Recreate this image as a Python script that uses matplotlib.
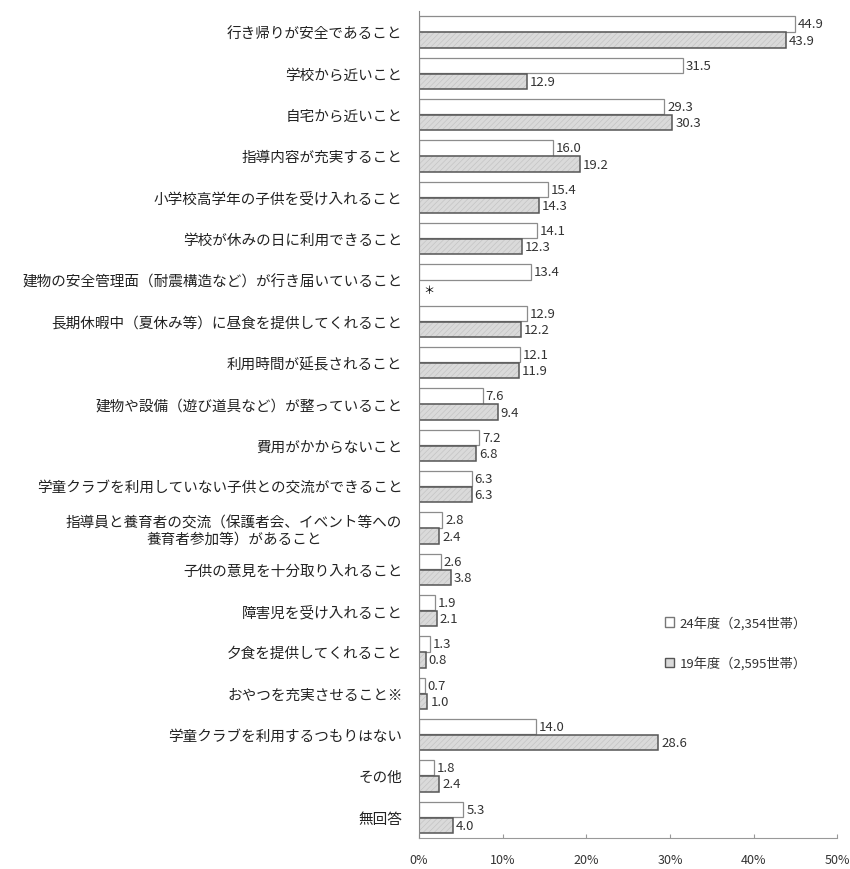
import matplotlib
matplotlib.use("Agg")
import matplotlib.pyplot as plt
from matplotlib.patches import Patch
import numpy as np

plt.rcParams['font.family'] = ['Noto Sans CJK JP', 'DejaVu Sans']
plt.rcParams['hatch.linewidth'] = 0.5

# Données
categories = [
    "行き帰りが安全であること",
    "学校から近いこと",
    "自宅から近いこと",
    "指導内容が充実すること",
    "小学校高学年の子供を受け入れること",
    "学校が休みの日に利用できること",
    "建物の安全管理面（耐震構造など）が行き届いていること",
    "長期休暇中（夏休み等）に昼食を提供してくれること",
    "利用時間が延長されること",
    "建物や設備（遊び道具など）が整っていること",
    "費用がかからないこと",
    "学童クラブを利用していない子供との交流ができること",
    "指導員と養育者の交流（保護者会、イベント等への\n養育者参加等）があること",
    "子供の意見を十分取り入れること",
    "障害児を受け入れること",
    "夕食を提供してくれること",
    "おやつを充実させること※",
    "学童クラブを利用するつもりはない",
    "その他",
    "無回答",
]
valeurs_24 = [44.9, 31.5, 29.3, 16.0, 15.4, 14.1, 13.4, 12.9, 12.1, 7.6,
              7.2, 6.3, 2.8, 2.6, 1.9, 1.3, 0.7, 14.0, 1.8, 5.3]
valeurs_19 = [43.9, 12.9, 30.3, 19.2, 14.3, 12.3, np.nan, 12.2, 11.9, 9.4,
              6.8, 6.3, 2.4, 3.8, 2.1, 0.8, 1.0, 28.6, 2.4, 4.0]
label_24 = "24年度（2,354世帯）"
label_19 = "19年度（2,595世帯）"

y = np.arange(len(categories))
h = 0.37

fig = plt.figure(figsize=(8.5, 8.7), dpi=100)
ax = fig.add_axes([0.493, 0.036, 0.492, 0.950])

ax.barh(y - 0.19, valeurs_24, height=h, color='white', edgecolor='#8c8c8c', linewidth=0.9)
v19 = np.nan_to_num(valeurs_19)
# trame claire puis contour foncé
ax.barh(y + 0.2, v19, height=h, color='#dadada', edgecolor='#c4c4c4',
        linewidth=0, hatch='//////')
ax.barh(y + 0.2, v19, height=h, color='none', edgecolor='#555555', linewidth=1.1)

# Valeurs
for i in range(len(categories)):
    ax.text(valeurs_24[i] + 0.35, y[i] - 0.19, f"{valeurs_24[i]:.1f}",
            va='center', ha='left', fontsize=9.5, color='#333333')
    if np.isnan(valeurs_19[i]):
        ax.text(0.5, y[i] + 0.25, "＊", va='center', ha='left', fontsize=8)
    else:
        ax.text(valeurs_19[i] + 0.35, y[i] + 0.2, f"{valeurs_19[i]:.1f}",
                va='center', ha='left', fontsize=9.5, color='#333333')

ax.set_ylim(len(categories) - 0.5, -0.5)
ax.set_xlim(0, 50)
ax.set_yticks(y)
ax.set_yticklabels(categories, fontsize=10.5, multialignment='center', color='#222222')
ax.tick_params(axis='y', length=0, pad=12)
ax.set_xticks([0, 10, 20, 30, 40, 50])
ax.set_xticklabels(["0%", "10%", "20%", "30%", "40%", "50%"], fontsize=9, color='#333333')
ax.tick_params(axis='x', direction='in', length=3, color='#999999', pad=11)

for s in ['top', 'right']:
    ax.spines[s].set_visible(False)
ax.spines['left'].set_color('#888888')
ax.spines['bottom'].set_color('#999999')

# Légende
handles = [Patch(facecolor='white', edgecolor='#777777', label=label_24),
           Patch(facecolor='#dadada', edgecolor='#555555', label=label_19)]
ax.legend(handles=handles, loc='upper left', bbox_to_anchor=(0.56, 0.283),
          frameon=False, fontsize=9.5, handlelength=0.7, handleheight=0.7,
          handletextpad=0.4, labelspacing=2.0, labelcolor='#333333')

plt.savefig("out.png", dpi=100)
